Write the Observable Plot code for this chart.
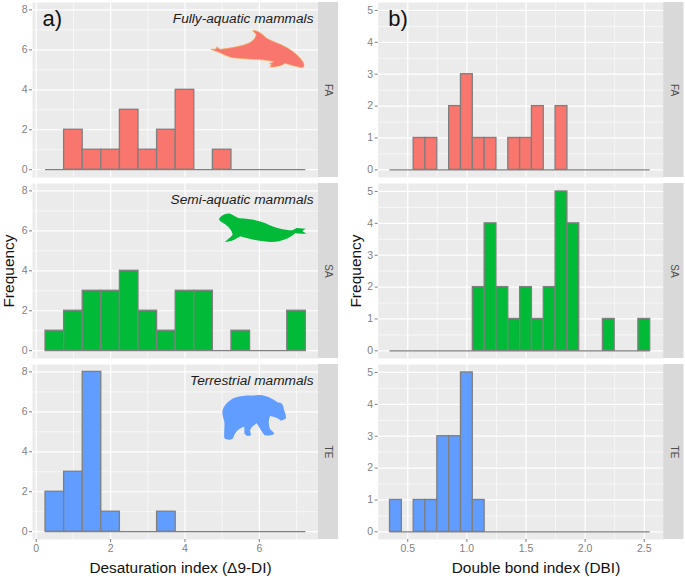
<!DOCTYPE html>
<html>
<head>
<meta charset="utf-8">
<script src="https://cdn.jsdelivr.net/npm/d3@7"></script>
<script src="https://cdn.jsdelivr.net/npm/@observablehq/plot@0.6"></script>
<style>
html,body{margin:0;padding:0;background:#fff;width:685px;height:577px;overflow:hidden}
#root{position:relative;width:685px;height:577px}
#root>svg{position:absolute;top:0}
</style>
</head>
<body>
<div id="root"></div>
<script>
const groups = ["FA", "SA", "TE"];
const groupColors = ["#F8766D", "#00BA38", "#619CFF"];
const groupTitles = ["Fully-aquatic mammals", "Semi-aquatic mammals", "Terrestrial mammals"];

const desatEdges = [0.25,0.75,1.25,1.75,2.25,2.75,3.25,3.75,4.25,4.75,5.25,5.75,6.25,6.75,7.25];
const desatFA = [0,2,1,1,3,1,2,4,0,1,0,0,0,0];
const desatSA = [1,2,3,3,4,2,1,3,3,0,1,0,0,2];
const desatTE = [2,3,8,1,0,0,1,0,0,0,0,0,0,0];

const dbiEdges = [0.35,0.45,0.55,0.65,0.75,0.85,0.95,1.05,1.15,1.25,1.35,1.45,1.55,1.65,1.75,1.85,1.95,2.05,2.15,2.25,2.35,2.45,2.55];
const dbiFA = [0,0,1,1,0,2,3,1,1,0,1,1,2,0,2,0,0,0,0,0,0,0];
const dbiSA = [0,0,0,0,0,0,0,2,4,2,1,2,1,2,5,4,0,0,1,0,0,1];
const dbiTE = [1,0,1,1,3,3,5,1,0,0,0,0,0,0,0,0,0,0,0,0,0,0];

const desatXTicks = [0,2,4,6];
const desatXMinor = [1,3,5,7];
const desatYTicks = [0,2,4,6,8];
const desatYMinor = [1,3,5,7];
const dbiXTicks = [0.5,1.0,1.5,2.0,2.5];
const dbiXMinor = [0.75,1.25,1.75,2.25];
const dbiYTicks = [0,1,2,3,4,5];
const dbiYMinor = [0.5,1.5,2.5,3.5,4.5];

function rows(edges, series) {
  return series.flatMap((vals, g) => vals.map((count, i) => ({
    group: groups[g], lo: edges[i], hi: edges[i + 1], count
  })));
}

function column(o) {
  const data = rows(o.edges, o.series).filter(d => d.count > 0);
  const first = o.edges[0], last = o.edges[o.edges.length - 1];
  const marks = [
    Plot.frame({fill: "#ebebeb", stroke: null}),
    Plot.ruleX(o.xMinor, {stroke: "#fff", strokeWidth: 0.6}),
    Plot.ruleY(o.yMinor, {stroke: "#fff", strokeWidth: 0.6}),
    Plot.ruleX(o.xTicks, {stroke: "#fff", strokeWidth: 1.2}),
    Plot.ruleY(o.yTicks, {stroke: "#fff", strokeWidth: 1.2}),
    Plot.ruleY([0], {x1: first, x2: last, stroke: "#7f7f7f", strokeWidth: 1.3}),
    Plot.rectY(data, {x1: "lo", x2: "hi", y1: 0, y2: "count", fy: "group", fill: "group", stroke: "#7f7f7f", strokeWidth: 1.3}),
    Plot.rect(groups, {x1: o.xDomain[1], x2: o.stripEnd, fy: d => d, fill: "#d9d9d9"}),
    Plot.text(groups, {
      x: (o.xDomain[1] + o.stripEnd) / 2, fy: d => d, text: d => d, frameAnchor: "middle",
      rotate: 90, fontSize: 10, fill: "#4d4d4d"
    }),
    Plot.axisX({ticks: o.xTicks, tickFormat: o.xFormat, tickSize: 3, tickPadding: 2, label: null, fontSize: 10.5, color: "#7f7f7f"}),
    Plot.axisY({ticks: o.yTicks, tickFormat: d3.format("d"), tickSize: 3, tickPadding: 2, label: null, fontSize: 10.5, color: "#7f7f7f"}),
    Plot.text([o.tag], {fy: () => "FA", text: d => d, frameAnchor: "top-left", dx: 10, dy: 8, fontSize: 22, fill: "#111"}),
    Plot.text(["SA"], {fy: d => d, text: () => "Frequency", frameAnchor: "left", textAnchor: "middle", rotate: -90, dx: o.yLabelDx, fontSize: 15.5, fill: "#111"}),
    Plot.text(["TE"], {fy: d => d, text: () => o.xLabel, frameAnchor: "bottom", dx: o.xLabelDx, dy: 33, fontSize: 15.4, fill: "#111"})
  ];
  if (o.titles) marks.push(Plot.text(groups, {
    fy: d => d, text: (d, i) => groupTitles[i], frameAnchor: "top-right", dx: -5, dy: 11,
    fontSize: 13.7, fontStyle: "italic", fill: "#1a1a1a"
  }));
  const svg = Plot.plot({
    width: o.width, height: 577,
    marginLeft: o.marginLeft, marginRight: o.marginRight, marginTop: 1, marginBottom: 38,
    style: {fontFamily: "'Liberation Sans', Arial, sans-serif", background: "transparent", overflow: "visible"},
    x: {domain: o.xDomain},
    y: {domain: o.yDomain},
    fy: {domain: groups, axis: null, paddingInner: 0.0358, paddingOuter: 0, label: null},
    color: {domain: groups, range: groupColors},
    marks
  });
  svg.style.left = o.left + "px";
  return svg;
}

const root = document.getElementById("root");
root.append(column({
  left: 0, width: 345, marginLeft: 32, marginRight: 27,
  edges: desatEdges, series: [desatFA, desatSA, desatTE],
  xDomain: [-0.1, 7.59], stripEnd: 8.13, yDomain: [-0.39, 8.37],
  xTicks: desatXTicks, xMinor: desatXMinor, yTicks: desatYTicks, yMinor: desatYMinor,
  xFormat: d3.format("d"), tag: "a)", titles: true,
  xLabel: "Desaturation index (Δ9-DI)", xLabelDx: 5, yLabelDx: -23.5
}));
root.append(column({
  left: 345, width: 340, marginLeft: 32.7, marginRight: 21.7,
  edges: dbiEdges, series: [dbiFA, dbiSA, dbiTE],
  xDomain: [0.25, 2.665], stripEnd: 2.836, yDomain: [-0.24, 5.25],
  xTicks: dbiXTicks, xMinor: dbiXMinor, yTicks: dbiYTicks, yMinor: dbiYMinor,
  xFormat: d3.format(".1f"), tag: "b)", titles: false,
  xLabel: "Double bond index (DBI)", xLabelDx: 15, yLabelDx: -22
}));

// Decorative animal silhouettes
const silhouettes = [
  {at: [205, 25], fill: "#F8766D", stroke: "#efb35e",
   d: "M17,73 L33,72 L36,65 L42,71 L47,73 C70,70 105,65 130,55 C145,48 153,38 153,28 L143,17 C150,14 165,20 180,35 C190,45 210,50 235,62 C255,72 275,85 290,105 C298,115 300,125 292,128 C270,125 250,118 240,115 C232,122 215,127 194,126 L200,119 L193,116 L207,110 C170,102 120,103 80,98 C60,92 50,85 33,79 Z"},
  {at: [215, 208], fill: "#00BA38", stroke: "none",
   d: "M12,32 C20,22 30,15 45,17 C55,20 60,27 75,31 C100,33 125,35 150,45 C180,60 215,68 232,67 L245,60 L272,62 L262,69 L274,77 L258,77 L240,76 C225,90 200,103 165,102 C130,100 100,92 75,85 C65,92 50,102 30,102 C35,95 45,90 53,80 C50,65 40,55 28,47 C20,42 12,38 12,32Z"},
  {at: [215, 390], fill: "#619CFF", stroke: "none",
   d: "M22,65 C25,45 45,25 70,20 C90,15 105,18 130,15 C150,13 170,25 190,38 C200,36 205,45 207,60 C212,72 214,80 212,86 L198,92 C190,85 180,80 165,78 C160,90 160,105 165,117 L178,130 C175,137 160,138 148,135 C140,125 135,115 125,100 C118,105 110,110 105,120 L108,135 C100,140 92,138 88,130 L88,110 C75,112 60,125 55,143 C50,150 38,152 28,145 C26,125 30,110 28,95 C25,85 22,75 22,65Z"}
];
const overlay = d3.select(root).append("svg")
  .attr("width", 685).attr("height", 577).style("left", "0px").style("pointer-events", "none");
overlay.selectAll("path").data(silhouettes).join("path")
  .attr("transform", d => `translate(${d.at[0]},${d.at[1]}) scale(${1 / 3})`)
  .attr("d", d => d.d).attr("fill", d => d.fill).attr("stroke", d => d.stroke).attr("stroke-width", 2);
</script>
</body>
</html>
